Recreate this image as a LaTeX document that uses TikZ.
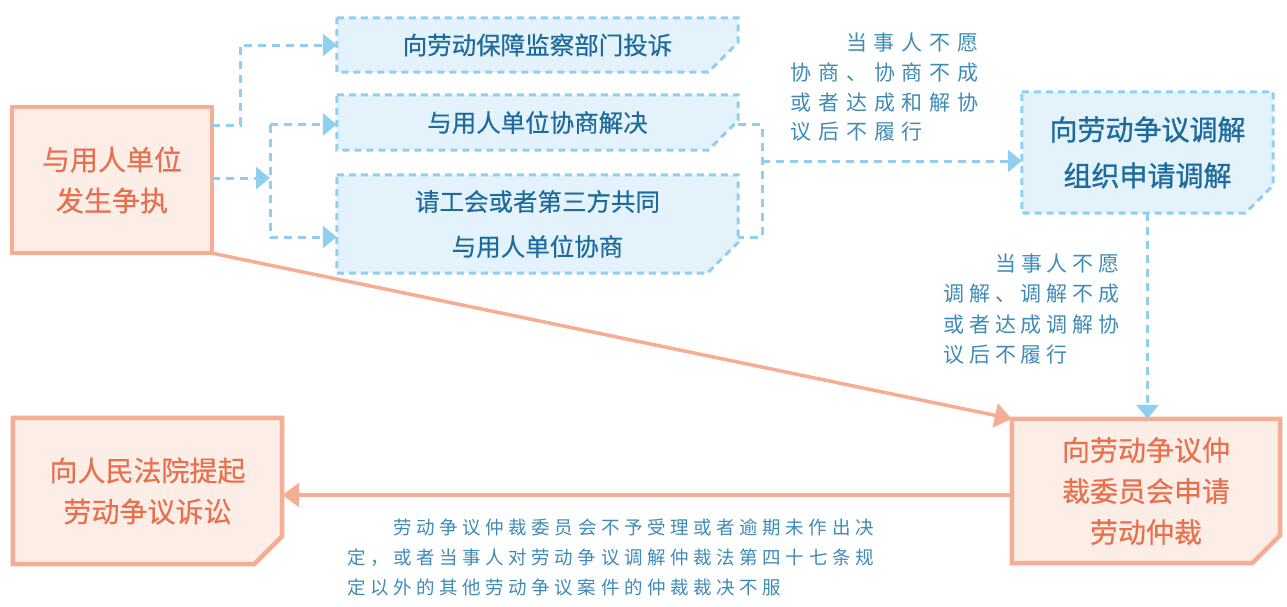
\documentclass[tikz,border=0pt]{standalone}
\usepackage{fontspec}
\setmainfont{Noto Sans CJK SC}
\newfontfamily\boxfont[FakeBold=0.35]{Noto Sans CJK SC}
\newfontfamily\medfont[FakeBold=1.0]{Noto Sans CJK SC}
\usetikzlibrary{arrows.meta,backgrounds,calc}
\definecolor{salB}{HTML}{F5AD94}
\definecolor{salF}{HTML}{FCEDE7}
\definecolor{salT}{HTML}{E9704C}
\definecolor{bluB}{HTML}{8FD0F0}
\definecolor{bluF}{HTML}{E3F2FB}
\definecolor{bluT}{HTML}{1D6B9C}
\definecolor{lblT}{HTML}{3F8BB6}
\newlength\chpitch
\def\chrow#1{\chrowi#1\relax}
\def\chrowi#1{\ifx\relax#1\else\makebox[\chpitch]{#1}\expandafter\chrowi\fi}
\newcommand\cutframe[3]{\path[#1] (#2.north west) -- (#2.north east) -- ([yshift=#3]#2.south east) -- ([xshift=-#3]#2.south east) -- (#2.south west) -- cycle;}
\begin{document}
\begin{tikzpicture}[x=1pt,y=-1pt,
 holder/.style={inner sep=0pt, align=center},
 bluetext/.style={holder, text=bluT, font=\boxfont\fontsize{24.5}{45}\selectfont},
 saltext/.style={holder, text=salT, font=\boxfont\fontsize{28}{41}\selectfont},
 bbox/.style={draw=bluB, fill=bluF, line width=3pt, dash pattern=on 7pt off 5pt},
 sbox/.style={draw=salB, fill=salF, line width=4.5pt},
 bluline/.style={draw=bluB, line width=3pt, dash pattern=on 8pt off 6pt},
 bluarrow/.style={bluline, -{Triangle[length=14pt,width=22pt]}},
 salarrow/.style={draw=salB, line width=3.5pt, -{Triangle[length=17pt,width=24pt]}},
 lbl/.style={inner sep=0pt, align=left, anchor=west, text=lblT},
]
\useasboundingbox (0,0) rectangle (1287,606);

\node[saltext, minimum width=200pt, minimum height=146pt] (dispute) at (112,180) {与用人单位\\发生争执};
\node[bluetext, minimum width=401pt, minimum height=54pt] (obs) at (537.5,45) {向劳动保障监察部门投诉};
\node[bluetext, minimum width=401pt, minimum height=55pt] (neg) at (537.5,122.5) {与用人单位协商解决};
\node[bluetext, minimum width=401pt, minimum height=98pt] (third) at (537.5,224) {请工会或者第三方共同\\与用人单位协商};
\node[holder, text=bluT, font=\medfont\fontsize{28}{46}\selectfont, minimum width=251pt, minimum height=121pt] (med) at (1147.5,152.5) {向劳动争议调解\\组织申请调解};
\node[saltext, minimum width=268pt, minimum height=144pt] (arb) at (1146,491) {向劳动争议仲\\裁委员会申请\\劳动仲裁};
\node[saltext, minimum width=269pt, minimum height=146pt] (court) at (147.5,491) {向人民法院提起\\劳动争议诉讼};

\begin{scope}[on background layer]
 \path[sbox] (dispute.north west) rectangle (dispute.south east);
 \cutframe{bbox}{obs}{30pt}
 \cutframe{bbox}{neg}{30pt}
 \cutframe{bbox}{third}{31pt}
 \cutframe{bbox}{med}{28pt}
 \cutframe{sbox}{arb}{28pt}
 \cutframe{sbox}{court}{28pt}
\end{scope}

\coordinate (split) at (270,178);
\coordinate (rbar) at (762,161);
\coordinate (negIn) at ([yshift=-2pt]neg.west);
\coordinate (negOut) at ([yshift=-2pt]neg.east);
\coordinate (thirdIn) at ([yshift=-13pt]third.west);
\coordinate (thirdOut) at ([yshift=-13pt]third.east);

\draw[bluarrow] ([yshift=55pt]dispute.east) -- ++(28,0) |- (obs.west);
\draw[bluarrow] ([yshift=2pt]dispute.east) -- (split);
\draw[bluarrow] (split |- negIn) -- (negIn);
\draw[bluarrow] (split |- negIn) -- (split |- thirdIn) -- (thirdIn);
\draw[bluline] (negOut) -| (rbar |- thirdOut) -- (thirdOut);
\draw[bluarrow] (rbar) -- (rbar -| med.west);
\draw[bluarrow] (med.south) -- (med.south |- arb.north);
\draw[salarrow] (dispute.south east) -- (arb.north west);
\draw[salarrow] ([yshift=-4pt]arb.west) -- ([yshift=-4pt]court.east);

\node[lbl, font=\fontsize{21}{29.7}\selectfont\setlength\chpitch{27.8pt}] (lab1) at (787,87.5)
 {\hspace*{2\chpitch}\chrow{当事人不愿}\\\chrow{协商、协商不成}\\\chrow{或者达成和解协}\\\chrow{议后不履行}};
\node[lbl, font=\fontsize{21}{30.5}\selectfont\setlength\chpitch{25.8pt}] (lab2) at (941,309)
 {\hspace*{2\chpitch}\chrow{当事人不愿}\\\chrow{调解、调解不成}\\\chrow{或者达成调解协}\\\chrow{议后不履行}};
\node[lbl, font=\fontsize{18.5}{30}\selectfont\setlength\chpitch{23.1pt}] (lab3) at (344.5,557)
 {\hspace*{2\chpitch}\chrow{劳动争议仲裁委员会不予受理或者逾期未作出决}\\\chrow{定，或者当事人对劳动争议调解仲裁法第四十七条规}\\\chrow{定以外的其他劳动争议案件的仲裁裁决不服}};
\end{tikzpicture}
\end{document}
